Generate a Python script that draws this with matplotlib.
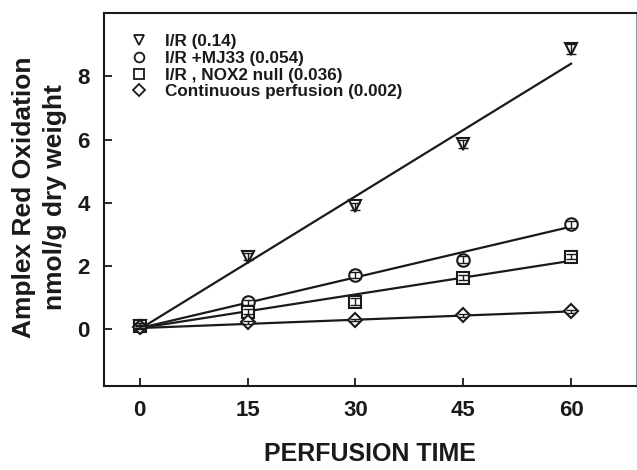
import numpy as np
import matplotlib
matplotlib.use("Agg")
import matplotlib.pyplot as plt

plt.rcParams['font.family'] = ['Liberation Sans', 'DejaVu Sans']
plt.rcParams['font.weight'] = 'bold'

# perfusion time (min)
times = [0, 15, 30, 45, 60]

ir_vals = [0.10, 2.29, 3.88, 5.85, 8.87]
mj33_vals = [0.10, 0.84, 1.71, 2.20, 3.31]
nox2_vals = [0.08, 0.55, 0.87, 1.63, 2.29]
cont_vals = [0.06, 0.21, 0.28, 0.43, 0.56]

ir_err = [0.08, 0.12, 0.12, 0.12, 0.15]
mj33_err = [0.08, 0.08, 0.10, 0.12, 0.10]
nox2_err = [0.06, 0.08, 0.10, 0.08, 0.08]
cont_err = [0.05, 0.05, 0.04, 0.04, 0.04]

# fitted slopes / intercepts of the regression lines
slopes = [0.14, 0.0535, 0.0355, 0.0088]
intercepts = [0.0, 0.03, 0.03, 0.03]

labels = ["I/R (0.14)", "I/R +MJ33 (0.054)", "I/R , NOX2 null (0.036)",
          "Continuous perfusion (0.002)"]
markers = ["v", "o", "s", "D"]
msizes = [9, 9, 8.5, 8.5]

series = [ir_vals, mj33_vals, nox2_vals, cont_vals]
errors = [ir_err, mj33_err, nox2_err, cont_err]

fig = plt.figure(figsize=(6.37, 4.70), dpi=100)
ax = fig.add_axes([0.163, 0.179, 0.835, 0.793])

t = np.array(times, dtype=float)
for vals, err, m, ms, lab, k, b in zip(series, errors, markers, msizes, labels, slopes, intercepts):
    ax.plot(t, k * t + b, color="#1a1a1a", lw=1.6, zorder=2)
    ax.errorbar(t, vals, yerr=err, fmt="none", ecolor="#1a1a1a", elinewidth=1.0,
                capsize=3.5, capthick=1.0, zorder=4)
    ax.plot(t, vals, linestyle="none", marker=m, markersize=ms if m != "D" else ms - 1,
            markerfacecolor="white", markeredgecolor="#1a1a1a", markeredgewidth=1.5, zorder=3)
    # legend proxy
    ax.plot([], [], linestyle="none", marker=m, markersize=7 if m != "D" else 6,
            markerfacecolor="none", markeredgecolor="#1a1a1a", markeredgewidth=1.3, label=lab)

ax.set_xlim(-5, 69)
ax.set_ylim(-1.8, 10)
ax.set_xticks(times)
ax.set_yticks([0, 2, 4, 6, 8])
ax.tick_params(direction="in", length=6, width=1.3, labelsize=16, pad=10,
               colors="#1a1a1a")
for lbl in ax.get_xticklabels() + ax.get_yticklabels():
    lbl.set_fontweight("bold")

for side in ["left", "bottom", "top"]:
    ax.spines[side].set_linewidth(1.5)
    ax.spines[side].set_color("#1a1a1a")
ax.spines["right"].set_linewidth(0.8)
ax.spines["right"].set_color("#999999")

ax.set_ylabel("Amplex Red Oxidation\nnmol/g dry weight", fontsize=19, fontweight="bold",
              linespacing=1.35, color="#1a1a1a")
ax.yaxis.set_label_coords(-0.07, 0.507)
ax.set_xlabel("PERFUSION TIME", fontsize=18, fontweight="bold", labelpad=15, color="#1a1a1a")

leg = ax.legend(loc="upper left", bbox_to_anchor=(0.03, 0.962), frameon=False,
                fontsize=12.3, handletextpad=0.75, labelspacing=0.1, borderaxespad=0,
                handlelength=1.5)
for txt in leg.get_texts():
    txt.set_fontweight("bold")
    txt.set_color("#1a1a1a")

fig.savefig("out.png", dpi=100)
